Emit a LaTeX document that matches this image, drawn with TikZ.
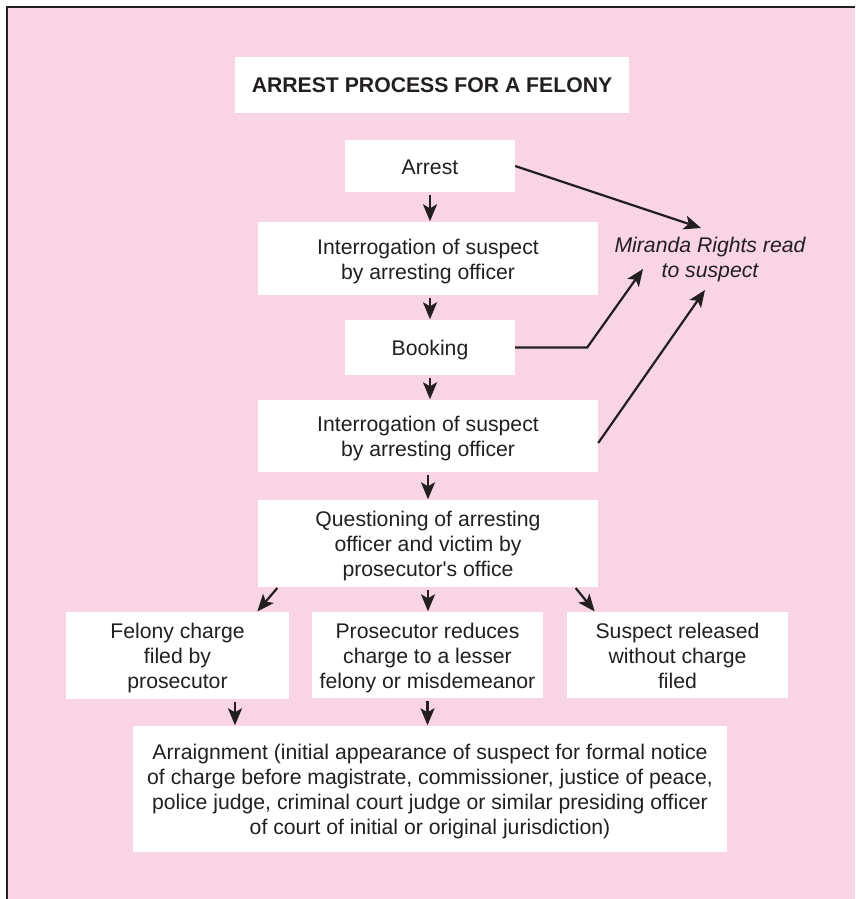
\documentclass[tikz,border=0pt]{standalone}
\usepackage{fontspec}
\setmainfont{Liberation Sans}
\usetikzlibrary{arrows.meta}
\definecolor{pinkbg}{RGB}{248,212,229}
\definecolor{ink}{RGB}{35,31,32}
\newcommand{\bxt}[1]{\raisebox{-3pt}[\height][\depth]{\begin{tabular}{@{}c@{}}#1\end{tabular}}}
\begin{document}
\begin{tikzpicture}[x=1pt,y=-1pt,
  box/.style={fill=white,inner sep=0pt,align=center,text=ink,
    font=\fontsize{21.2}{25}\selectfont},
  arr/.style={draw=ink,line width=2.2pt,-{Stealth[length=17pt,width=14pt,inset=4pt]}},
  ln/.style={draw=ink,line width=2.2pt}]
\useasboundingbox (0,0) rectangle (855,899);
\fill[pinkbg] (7,7) rectangle (855,899);
\draw[ink,line width=1.6pt] (7,899) -- (7,7) -- (855,7);

\node[box,minimum width=394pt,minimum height=56pt,font=\bfseries\fontsize{21.2}{25}\selectfont] (title) at (432,85) {\bxt{ARREST PROCESS FOR A FELONY}};
\node[box,minimum width=170pt,minimum height=52pt] (arrest) at (430,166) {\bxt{Arrest}};
\node[box,minimum width=340pt,minimum height=73pt] (int1) at (428,258.5) {\bxt{Interrogation of suspect\\by arresting officer}};
\node[box,minimum width=170pt,minimum height=55pt] (booking) at (430,347.5) {\bxt{Booking}};
\node[box,minimum width=340pt,minimum height=72pt] (int2) at (428,436) {\bxt{Interrogation of suspect\\by arresting officer}};
\node[box,minimum width=340pt,minimum height=87pt] (quest) at (428,543.5) {\bxt{Questioning of arresting\\officer and victim by\\prosecutor\textquotesingle s office}};
\node[box,minimum width=223pt,minimum height=87pt] (felony) at (177.5,655.5) {\bxt{Felony charge\\filed by\\prosecutor}};
\node[box,minimum width=231pt,minimum height=86pt] (reduce) at (427.5,655) {\bxt{Prosecutor reduces\\charge to a lesser\\felony or misdemeanor}};
\node[box,minimum width=221pt,minimum height=86pt] (released) at (677.5,655) {\bxt{Suspect released\\without charge\\filed}};
\node[box,minimum width=594pt,minimum height=126pt] (arraign) at (430,789) {\bxt{Arraignment (initial appearance of suspect for formal notice\\of charge before magistrate, commissioner, justice of peace,\\police judge, criminal court judge or similar presiding officer\\of court of initial or original jurisdiction)}};
\node[align=center,text=ink,inner sep=0pt,font=\itshape\fontsize{21.2}{25}\selectfont] (miranda) at (710,260) {Miranda Rights read\\to suspect};

\draw[arr,shorten <=3pt,shorten >=0.5pt] (arrest.south) -- (arrest.south |- int1.north);
\draw[arr,shorten <=3pt,shorten >=0.5pt] (booking.north |- int1.south) -- (booking.north);
\draw[arr,shorten <=3pt,shorten >=0.5pt] (booking.south) -- (booking.south |- int2.north);
\draw[arr,shorten <=3pt,shorten >=0.5pt] (int2.south) -- (quest.north);
\draw[arr,shorten <=1pt,shorten >=0.5pt] ([xshift=-150pt]quest.south) -- ([xshift=79.5pt]felony.north);
\draw[arr,shorten <=3pt,shorten >=0.5pt] (quest.south) -- (quest.south |- reduce.north);
\draw[arr,shorten <=1pt,shorten >=0.5pt] ([xshift=147pt]quest.south) -- ([xshift=-82.5pt]released.north);
\draw[arr,shorten <=3pt,shorten >=0.5pt] ([xshift=57.5pt]felony.south) -- ([xshift=57.5pt]felony.south |- arraign.north);
\draw[arr,shorten <=3pt,shorten >=0.5pt] (reduce.south) -- (reduce.south |- arraign.north);

\coordinate (m1) at ([shift={(-9pt,32pt)}]miranda.center);
\coordinate (m2) at ([shift={(-67pt,-9pt)}]miranda.center);
\coordinate (m3) at ([shift={(-5pt,-30pt)}]miranda.center);
\coordinate (bend) at ([xshift=72pt]booking.east);
\draw[arr] (arrest.east) -- (m1);
\draw[arr] (booking.east) -- (bend) -- (m2);
\draw[arr] ([yshift=-7pt]int2.east) -- (m3);
\end{tikzpicture}
\end{document}
